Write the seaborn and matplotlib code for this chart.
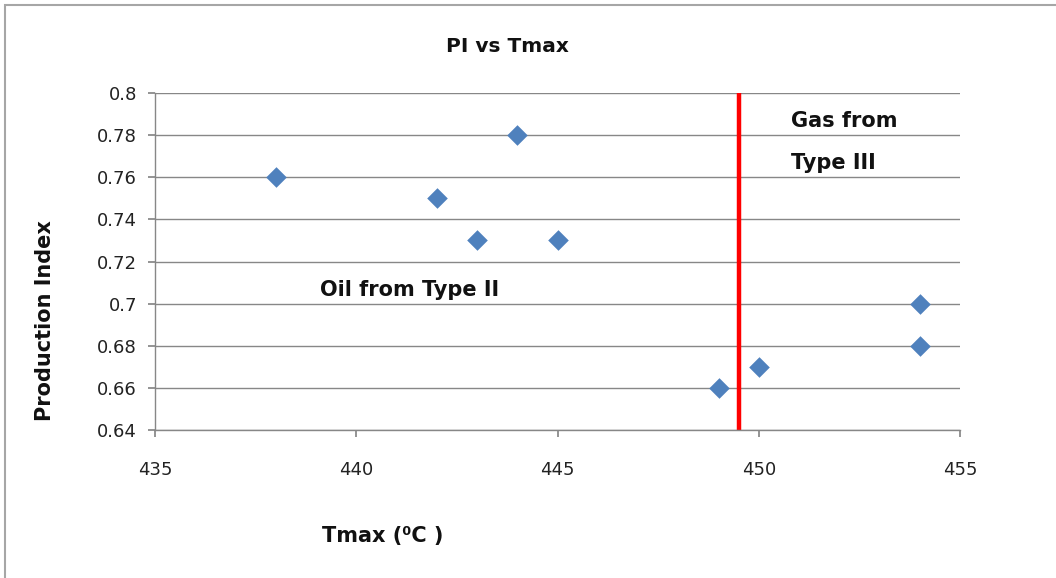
import matplotlib
matplotlib.use("Agg")
import matplotlib.pyplot as plt
import seaborn as sns
import pandas as pd
from matplotlib.patches import Rectangle

tmax = [438, 442, 443, 444, 445, 449, 450, 454, 454]
pi_vals = [0.76, 0.75, 0.73, 0.78, 0.73, 0.66, 0.67, 0.70, 0.68]
boundary_tmax = 449.5
x_ticks = [435, 440, 445, 450, 455]
y_ticks = [0.64, 0.66, 0.68, 0.70, 0.72, 0.74, 0.76, 0.78, 0.80]
y_tick_labels = ["0.64", "0.66", "0.68", "0.7", "0.72", "0.74", "0.76", "0.78", "0.8"]

sns.set_theme(style="white")
plt.rcParams['font.family'] = ['DejaVu Sans']

df = pd.DataFrame({"Tmax": tmax, "PI": pi_vals})

fig = plt.figure(figsize=(10.56, 5.78), dpi=100)
fig.patches.append(Rectangle((5/1056, -0.01), 1.02, 1 - 5/578 + 0.01, transform=fig.transFigure,
                             fill=False, edgecolor="#A6A6A6", linewidth=1.5))
ax = fig.add_axes([155/1056, 1 - 430/578, (960 - 155)/1056, (430 - 93)/578])

ax.axvline(boundary_tmax, color="#FF0000", linewidth=3.2, zorder=2)
sns.scatterplot(data=df, x="Tmax", y="PI", ax=ax, marker="D", s=110, color="#4F81BD",
                edgecolor="#4F81BD", linewidth=0, zorder=3)

ax.set_xlim(435, 455)
ax.set_ylim(0.64, 0.80)
ax.set_xticks(x_ticks)
ax.set_xticklabels([str(t) for t in x_ticks], fontsize=13, color="#222222")
ax.set_yticks(y_ticks)
ax.set_yticklabels(y_tick_labels, fontsize=13, color="#222222")
ax.yaxis.grid(True, color="#878787", linewidth=1)
ax.xaxis.grid(False)
for side in ["top", "right"]:
    ax.spines[side].set_visible(False)
for side in ["left", "bottom"]:
    ax.spines[side].set_color("#878787")
    ax.spines[side].set_linewidth(1)
ax.tick_params(axis="both", which="both", direction="out", length=5, color="#878787",
               left=True, bottom=True, pad=8)
ax.tick_params(axis="x", pad=17)
ax.set_xlabel("")
ax.set_ylabel("")

txt_kw = dict(fontsize=15, fontweight="bold", va="center", ha="left", color="#111111")
ax.text(439.1, 0.7065, "Oil from Type II", **txt_kw)
ax.text(450.8, 0.7867, "Gas from", **txt_kw)
ax.text(450.8, 0.7668, "Type III", **txt_kw)

fig.text(507/1056, 1 - 47/578, "PI vs Tmax", fontsize=14.5, fontweight="bold", ha="center",
         va="center", color="#111111")
fig.text(383/1056, 1 - 536/578, "Tmax (\u2070C )", fontsize=15, fontweight="bold", ha="center",
         va="center", color="#111111")
fig.text(45/1056, 1 - 321/578, "Production Index", fontsize=15, fontweight="bold", ha="center",
         va="center", rotation=90, color="#111111")

fig.savefig("out.png", dpi=100)
